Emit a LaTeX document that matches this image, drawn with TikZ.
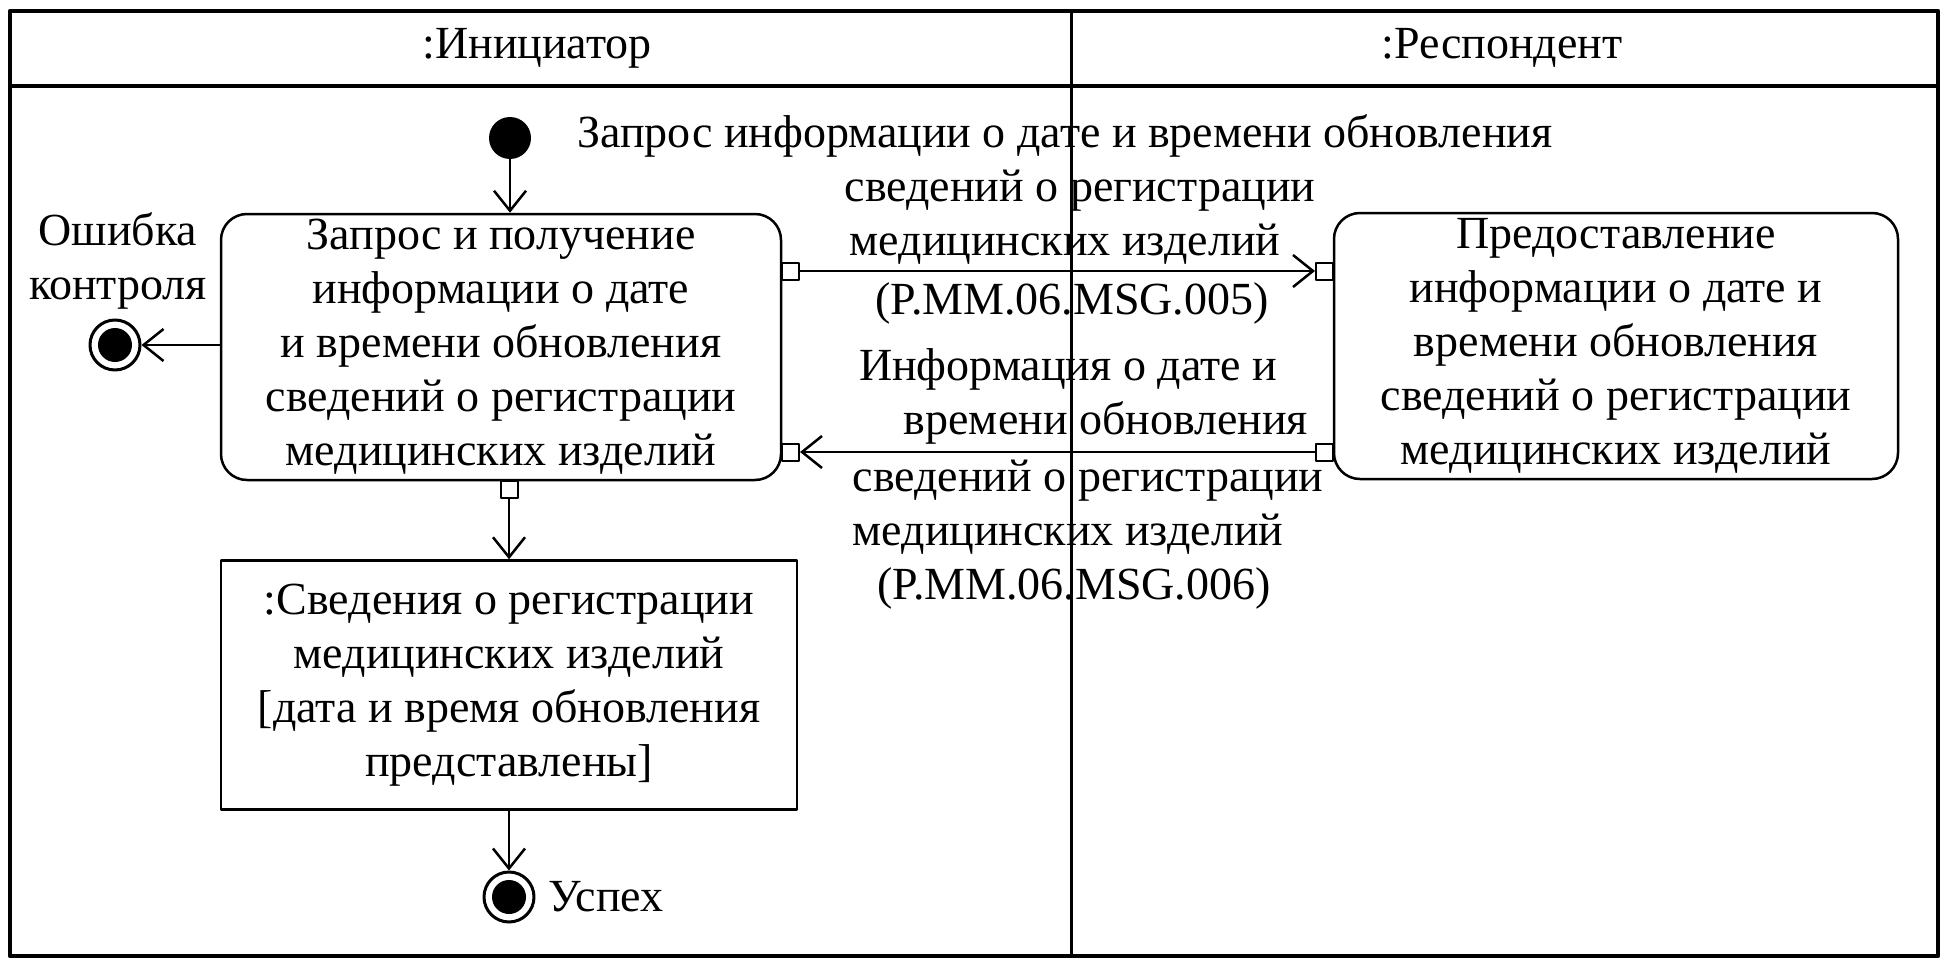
\documentclass[tikz,border=0pt]{standalone}
\usepackage{fontspec}
\setmainfont{Liberation Serif}
\usetikzlibrary{arrows.meta,positioning}
\begin{document}
\begin{tikzpicture}[x=1pt,y=-1pt,line join=round,
	>={Straight Barb[length=20pt,width=32pt,line width=2.5pt]},
	font=\fontsize{46}{54}\selectfont,
	act/.style={draw,line width=2.5pt,rounded corners=26pt,align=center,inner sep=0pt,minimum height=266pt},
	obj/.style={draw,line width=2.5pt,align=center,inner sep=0pt,minimum width=576pt,minimum height=249pt},
	pin/.style={draw,line width=2pt,fill=white,inner sep=0pt,minimum size=17pt},
	final/.style={circle,draw,line width=3pt,inner sep=0pt,minimum size=50pt,
		path picture={\fill (path picture bounding box.center) circle (17pt);}},
	flow/.style={line width=2.5pt,->},
	lbl/.style={align=center,inner sep=0pt}]
	\useasboundingbox (0,0) rectangle (1947,963);
	% lanes
	\draw[line width=4.5pt] (10,11) rectangle (1938,956);
	\draw[line width=4.5pt] (10,86)--(1938,86);
	\draw[line width=3pt] (1071,11)--(1071,956);
	\node (hdrInit) at (537,48) {:Инициатор};
	\node (hdrResp) at (1502,48) {:Респондент};
	% initiator
	\node[circle,fill,inner sep=0pt,minimum size=42pt] (start) at (510,138) {};
	\node[act,minimum width=560pt] (req) at (501,347) {Запрос и получение\\информации о дате\\и времени обновления\\сведений о регистрации\\медицинских изделий};
	\node[pin,anchor=west] (reqOut) at (781,271) {};
	\node[pin,anchor=west] (reqIn) at (781,452) {};
	\node[pin,anchor=north] (reqRes) at (509,480) {};
	\node[obj] (info) at (509,685) {:Сведения о регистрации\\медицинских изделий\\{[}дата и время обновления\\представлены{]}};
	\node[final] (okEnd) at (509,897) {};
	\node[lbl,right=13pt of okEnd] (okLbl) {Успех};
	\node[final] (errEnd) at (115,345) {};
	\node[lbl] (errLbl) at (118,261) {Ошибка\\контроля};
	% respondent
	\node[act,minimum width=564pt] (resp) at (1616,346) {Предоставление\\информации о дате и\\времени обновления\\сведений о регистрации\\медицинских изделий};
	\node[pin,anchor=east] (respIn) at (1334,271) {};
	\node[pin,anchor=east] (respOut) at (1334,452) {};
	% flows
	\draw[flow] (start.south) -- (start.south |- req.north);
	\draw[flow] (req.west |- errEnd) -- (errEnd.east);
	\draw[flow] (reqRes.south) -- (reqRes.south |- info.north);
	\draw[flow] (info.south -| okEnd) -- (okEnd.north);
	\draw[flow] (reqOut.east) -- (respIn.west);
	\draw[flow] (respOut.west) -- (reqIn.east);
	\node[lbl] (msgReq) at (1065,219) {Запрос информации о дате и времени обновления\\\hspace*{30pt}сведений о регистрации\\медицинских изделий\hspace*{70pt}\\[5pt]\hspace*{14pt}(P.MM.06.MSG.005)};
	\node[lbl] (msgRes) at (1068,479) {Информация о дате и\\\hspace*{76pt}времени обновления\\[3pt]\hspace*{40pt}сведений о регистрации\\медицинских изделий\hspace*{70pt}\\\hspace*{12pt}(P.MM.06.MSG.006)};
\end{tikzpicture}
\end{document}
